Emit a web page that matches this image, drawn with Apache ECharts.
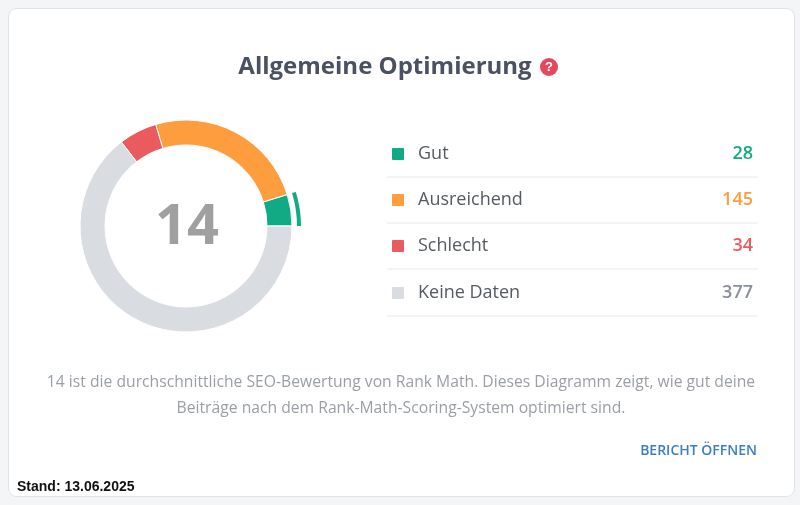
<!DOCTYPE html>
<html><head><meta charset="utf-8">
<script src="https://cdn.jsdelivr.net/npm/echarts@6/dist/echarts.min.js"></script>
<style>html,body{margin:0;padding:0;background:#f4f5f7}#c{width:800px;height:505px}</style>
</head><body><div id="c"></div>
<script>
var categories = ["Gut", "Ausreichend", "Schlecht", "Keine Daten"];
var values = [28, 145, 34, 377];
var colors = ["#10aa84", "#fd9d3e", "#e95b5f", "#d9dde1"];
var valueColors = ["#10aa84", "#fd9d3e", "#e95b5f", "#8a9099"];
var score = "14";

var chart = echarts.init(document.getElementById('c'));
var data = [];
for (var i = 0; i < categories.length; i++) {
    data.push({ name: categories[i], value: values[i], itemStyle: { color: colors[i] } });
}
var total = 0;
for (var i = 0; i < values.length; i++) total += values[i];

var graphics = [
    { type: 'rect', shape: { x: 8.5, y: 8.5, width: 786, height: 488, r: 8 }, style: { fill: '#fff', stroke: '#dfe2e6', lineWidth: 1 }, z: -10 },
    { type: 'text', x: 385, y: 67, style: { text: 'Allgemeine Optimierung', font: 'bold 24px "Open Sans", sans-serif', fill: '#4a5160', align: 'center', verticalAlign: 'middle' } },
    { type: 'circle', shape: { cx: 549, cy: 67, r: 9 }, style: { fill: '#e5475f' } },
    { type: 'text', x: 549, y: 67, style: { text: '?', font: 'bold 13px sans-serif', fill: '#fff', align: 'center', verticalAlign: 'middle' } },
    { type: 'text', x: 187, y: 228, style: { text: score, font: 'bold 56px "Open Sans", sans-serif', fill: '#a0a0a0', align: 'center', verticalAlign: 'middle' } },
    { type: 'text', x: 401, y: 383, style: { text: '14 ist die durchschnittliche SEO-Bewertung von Rank Math. Dieses Diagramm zeigt, wie gut deine', font: '15.7px "Open Sans", sans-serif', fill: '#9a9ea6', align: 'center', verticalAlign: 'middle' } },
    { type: 'text', x: 401, y: 409, style: { text: 'Beiträge nach dem Rank-Math-Scoring-System optimiert sind.', font: '15.7px "Open Sans", sans-serif', fill: '#9a9ea6', align: 'center', verticalAlign: 'middle' } },
    { type: 'text', x: 757, y: 451, style: { text: 'BERICHT ÖFFNEN', font: '600 14px "Open Sans", sans-serif', fill: '#3a7fc4', align: 'right', verticalAlign: 'middle' } },
    { type: 'text', x: 17, y: 487, style: { text: 'Stand: 13.06.2025', font: 'bold 14px "Liberation Sans Narrow", sans-serif', fill: '#111', align: 'left', verticalAlign: 'middle' } }
];
var rowY = [154, 200, 246, 293];
for (var i = 0; i < categories.length; i++) {
    var y = rowY[i];
    graphics.push({ type: 'rect', shape: { x: 392, y: y - 6, width: 12, height: 12, r: 1 }, style: { fill: colors[i] } });
    graphics.push({ type: 'text', x: 418, y: y, style: { text: categories[i], font: '18px "Open Sans", sans-serif', fill: '#555a63', verticalAlign: 'middle' } });
    graphics.push({ type: 'text', x: 753, y: y, style: { text: String(values[i]), font: '600 18px "Open Sans", sans-serif', fill: valueColors[i], align: 'right', verticalAlign: 'middle' } });
    graphics.push({ type: 'line', shape: { x1: 387, y1: y + 23, x2: 758, y2: y + 23 }, style: { stroke: '#e6e8eb', lineWidth: 1 } });
}

var option = {
    animation: false,
    graphic: graphics,
    series: [
        {
            type: 'pie', center: [186, 226], radius: [81, 106],
            startAngle: 0, clockwise: false,
            label: { show: false }, labelLine: { show: false },
            itemStyle: { borderColor: '#fff', borderWidth: 1 },
            data: data
        },
        {
            type: 'pie', center: [186, 226], radius: [111, 115],
            startAngle: 0, clockwise: false, silent: true,
            label: { show: false }, labelLine: { show: false },
            data: [
                { value: values[0], itemStyle: { color: colors[0] } },
                { value: total - values[0], itemStyle: { color: 'transparent' } }
            ]
        }
    ]
};
chart.setOption(option);
</script></body></html>
